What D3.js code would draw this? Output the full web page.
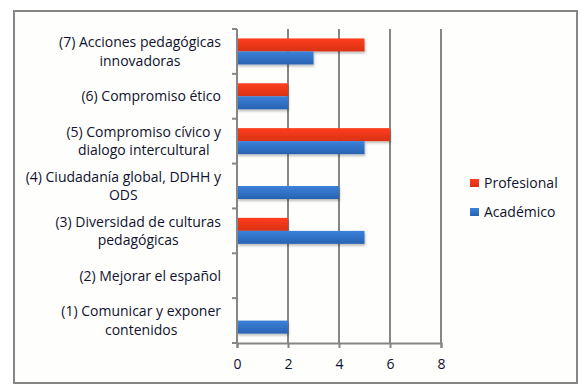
<!DOCTYPE html>
<html>
<head>
<meta charset="utf-8">
<script src="https://cdn.jsdelivr.net/npm/d3@7"></script>
<style>
  body { margin: 0; background: #ffffff; }
  text { font-family: "Open Sans", sans-serif; fill: #10122e; }
</style>
</head>
<body>
<div class="chart"></div>
<script>
const categories = [
  ["(7) Acciones pedagógicas", "innovadoras"],
  ["(6) Compromiso ético"],
  ["(5) Compromiso cívico y", "dialogo intercultural"],
  ["(4) Ciudadanía global, DDHH y", "ODS"],
  ["(3) Diversidad de culturas", "pedagógicas"],
  ["(2) Mejorar el español"],
  ["(1) Comunicar y exponer", "contenidos"]
];
const profesional = [5, 2, 6, 0, 2, 0, 0];
const academico = [3, 2, 5, 4, 5, 0, 2];
const seriesNames = ["Profesional", "Académico"];
const xTicks = [0, 2, 4, 6, 8];

const width = 586, height = 389;
const plot = { left: 237, right: 441, top: 29, bottom: 343 };

const svg = d3.select(".chart").append("svg")
  .attr("width", width)
  .attr("height", height);

// gradients for the bars
const defs = svg.append("defs");
const addGradient = (id, top, bottom) => {
  const g = defs.append("linearGradient").attr("id", id)
    .attr("x1", 0).attr("y1", 0).attr("x2", 0).attr("y2", 1);
  g.append("stop").attr("offset", "0%").attr("stop-color", top);
  g.append("stop").attr("offset", "100%").attr("stop-color", bottom);
}
addGradient("gradRed", "#ff3d1f", "#d83214");
addGradient("gradBlue", "#3b82da", "#2862b2");
const shadow = defs.append("filter").attr("id", "shadow")
  .attr("x", "-5%").attr("y", "-20%").attr("width", "115%").attr("height", "160%");
shadow.append("feDropShadow").attr("dx", 1).attr("dy", 2).attr("stdDeviation", 1)
  .attr("flood-color", "#000").attr("flood-opacity", 0.25);

// outer frame
svg.append("rect")
  .attr("x", 14).attr("y", 11)
  .attr("width", 563).attr("height", 372)
  .attr("fill", "#fefefc")
  .attr("stroke", "#868686")
  .attr("stroke-width", 2);

const xScale = d3.scaleLinear().domain([0, 8]).range([plot.left, plot.right]);
const yScale = d3.scaleBand()
  .domain(d3.range(categories.length))
  .range([plot.top, plot.bottom])
  .paddingInner(0.42)
  .paddingOuter(0.21);
const sub = d3.scaleBand().domain(seriesNames).range([0, yScale.bandwidth()]);

// gridlines
svg.append("g")
  .selectAll("line")
  .data(xTicks.slice(1))
  .enter()
  .append("line")
  .attr("x1", d => xScale(d)).attr("x2", d => xScale(d))
  .attr("y1", plot.top).attr("y2", plot.bottom)
  .attr("stroke", "#868686")
  .attr("stroke-width", 2);

// bars
const series = [
  { name: "Profesional", values: profesional, fill: "url(#gradRed)" },
  { name: "Académico", values: academico, fill: "url(#gradBlue)" }
];
series.forEach(s => {
  svg.append("g")
    .selectAll("rect")
    .data(s.values)
    .enter()
    .append("rect")
    .attr("x", xScale(0))
    .attr("y", (d, i) => yScale(i) + sub(s.name))
    .attr("width", d => xScale(d) - xScale(0))
    .attr("height", sub.bandwidth())
    .attr("fill", s.fill)
    .attr("filter", "url(#shadow)");
});

// y axis line with category boundary ticks
const bounds = d3.range(categories.length + 1).map(i => plot.top + i * (plot.bottom - plot.top) / categories.length);
const yAxisG = svg.append("g");
yAxisG.append("line")
  .attr("x1", plot.left).attr("x2", plot.left)
  .attr("y1", plot.top).attr("y2", plot.bottom)
  .attr("stroke", "#868686").attr("stroke-width", 2);
yAxisG.selectAll("line.tick")
  .data(bounds)
  .enter()
  .append("line")
  .attr("class", "tick")
  .attr("x1", plot.left - 5).attr("x2", plot.left)
  .attr("y1", d => d).attr("y2", d => d)
  .attr("stroke", "#868686").attr("stroke-width", 2);

// x axis
const xAxis = d3.axisBottom(xScale).tickValues(xTicks).tickSize(5).tickPadding(11);
svg.append("g")
  .attr("transform", "translate(0," + plot.bottom + ")")
  .call(xAxis)
  .call(g => g.select(".domain").attr("stroke", "#868686").attr("stroke-width", 2))
  .call(g => g.selectAll(".tick line").attr("stroke", "#868686").attr("stroke-width", 2))
  .call(g => g.selectAll(".tick text").attr("font-size", 14).attr("font-family", "Open Sans").attr("fill", "#10122e"));

// category labels: lines centered within a right-aligned block
const labelRight = 221;
const lineHeight = 18.5;
categories.forEach((lines, i) => {
  const cy = yScale(i) + yScale.bandwidth() / 2;
  const t = svg.append("text").attr("font-size", 14).attr("text-anchor", "middle");
  const spans = lines.map((l, k) => t.append("tspan")
    .attr("y", cy + (k - (lines.length - 1) / 2) * lineHeight + 5)
    .text(l));
  const maxW = d3.max(spans, s => s.node().getComputedTextLength());
  spans.forEach(s => s.attr("x", labelRight - maxW / 2));
});

// legend
const legend = svg.append("g");
series.forEach((s, i) => {
  legend.append("rect")
    .attr("x", 470).attr("y", 179 + i * 29)
    .attr("width", 9).attr("height", 8)
    .attr("fill", s.fill);
  legend.append("text")
    .attr("x", 484).attr("y", 188 + i * 29)
    .attr("font-size", 14)
    .text(s.name);
});
</script>
</body>
</html>
